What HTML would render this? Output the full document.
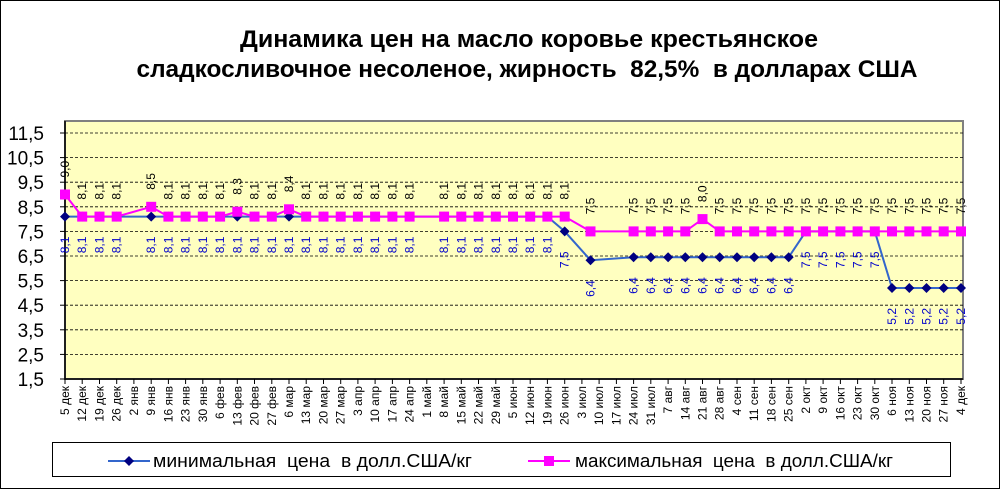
<!DOCTYPE html>
<html><head><meta charset="utf-8"><style>
html,body{margin:0;padding:0;background:#fff}
svg{display:block;font-family:"Liberation Sans",sans-serif}
.pre{white-space:pre}
</style></head><body>
<svg width="1003" height="490" viewBox="0 0 1003 490">
<rect x="0.5" y="0.5" width="999" height="488" fill="#fff" stroke="#000"/>
<text x="529" y="47" font-size="24" font-weight="bold" text-anchor="middle" textLength="578" lengthAdjust="spacingAndGlyphs">Динамика цен на масло коровье крестьянское</text>
<text class="pre" x="527" y="77" font-size="24" font-weight="bold" text-anchor="middle" textLength="781" lengthAdjust="spacingAndGlyphs">сладкосливочное несоленое, жирность  82,5%  в долларах США</text>
<rect x="65" y="121" width="898" height="258" fill="#ffffc0" stroke="#808080" stroke-width="2"/>
<g stroke="#000" stroke-width="0.8" stroke-dasharray="3,2">
<line x1="65" x2="963" y1="133" y2="133"/><line x1="65" x2="963" y1="157.6" y2="157.6"/><line x1="65" x2="963" y1="182.2" y2="182.2"/><line x1="65" x2="963" y1="206.8" y2="206.8"/><line x1="65" x2="963" y1="231.4" y2="231.4"/><line x1="65" x2="963" y1="256" y2="256"/><line x1="65" x2="963" y1="280.6" y2="280.6"/><line x1="65" x2="963" y1="305.2" y2="305.2"/><line x1="65" x2="963" y1="329.8" y2="329.8"/><line x1="65" x2="963" y1="354.4" y2="354.4"/>
</g>
<line x1="65" y1="121" x2="65" y2="380" stroke="#000" stroke-width="1.5"/>
<line x1="65" x2="963" y1="379" y2="379" stroke="#000" stroke-width="1.5"/>
<g stroke="#000">
<line x1="60" x2="65" y1="133" y2="133"/><line x1="60" x2="65" y1="157.6" y2="157.6"/><line x1="60" x2="65" y1="182.2" y2="182.2"/><line x1="60" x2="65" y1="206.8" y2="206.8"/><line x1="60" x2="65" y1="231.4" y2="231.4"/><line x1="60" x2="65" y1="256" y2="256"/><line x1="60" x2="65" y1="280.6" y2="280.6"/><line x1="60" x2="65" y1="305.2" y2="305.2"/><line x1="60" x2="65" y1="329.8" y2="329.8"/><line x1="60" x2="65" y1="354.4" y2="354.4"/><line x1="60" x2="65" y1="379" y2="379"/>
</g>
<g font-size="19" text-anchor="end">
<text x="44" y="140">11,5</text><text x="44" y="164.6">10,5</text><text x="44" y="189.2">9,5</text><text x="44" y="213.8">8,5</text><text x="44" y="238.4">7,5</text><text x="44" y="263">6,5</text><text x="44" y="287.6">5,5</text><text x="44" y="312.2">4,5</text><text x="44" y="336.8">3,5</text><text x="44" y="361.4">2,5</text><text x="44" y="386">1,5</text>
</g>
<g stroke="#000">
<line x1="65" x2="65" y1="379" y2="384"/><line x1="82.2" x2="82.2" y1="379" y2="384"/><line x1="99.5" x2="99.5" y1="379" y2="384"/><line x1="116.7" x2="116.7" y1="379" y2="384"/><line x1="133.9" x2="133.9" y1="379" y2="384"/><line x1="151.2" x2="151.2" y1="379" y2="384"/><line x1="168.4" x2="168.4" y1="379" y2="384"/><line x1="185.6" x2="185.6" y1="379" y2="384"/><line x1="202.8" x2="202.8" y1="379" y2="384"/><line x1="220.1" x2="220.1" y1="379" y2="384"/><line x1="237.3" x2="237.3" y1="379" y2="384"/><line x1="254.5" x2="254.5" y1="379" y2="384"/><line x1="271.8" x2="271.8" y1="379" y2="384"/><line x1="289" x2="289" y1="379" y2="384"/><line x1="306.2" x2="306.2" y1="379" y2="384"/><line x1="323.5" x2="323.5" y1="379" y2="384"/><line x1="340.7" x2="340.7" y1="379" y2="384"/><line x1="357.9" x2="357.9" y1="379" y2="384"/><line x1="375.1" x2="375.1" y1="379" y2="384"/><line x1="392.4" x2="392.4" y1="379" y2="384"/><line x1="409.6" x2="409.6" y1="379" y2="384"/><line x1="426.8" x2="426.8" y1="379" y2="384"/><line x1="444.1" x2="444.1" y1="379" y2="384"/><line x1="461.3" x2="461.3" y1="379" y2="384"/><line x1="478.5" x2="478.5" y1="379" y2="384"/><line x1="495.8" x2="495.8" y1="379" y2="384"/><line x1="513" x2="513" y1="379" y2="384"/><line x1="530.2" x2="530.2" y1="379" y2="384"/><line x1="547.4" x2="547.4" y1="379" y2="384"/><line x1="564.7" x2="564.7" y1="379" y2="384"/><line x1="581.9" x2="581.9" y1="379" y2="384"/><line x1="599.1" x2="599.1" y1="379" y2="384"/><line x1="616.4" x2="616.4" y1="379" y2="384"/><line x1="633.6" x2="633.6" y1="379" y2="384"/><line x1="650.8" x2="650.8" y1="379" y2="384"/><line x1="668.1" x2="668.1" y1="379" y2="384"/><line x1="685.3" x2="685.3" y1="379" y2="384"/><line x1="702.5" x2="702.5" y1="379" y2="384"/><line x1="719.7" x2="719.7" y1="379" y2="384"/><line x1="737" x2="737" y1="379" y2="384"/><line x1="754.2" x2="754.2" y1="379" y2="384"/><line x1="771.4" x2="771.4" y1="379" y2="384"/><line x1="788.7" x2="788.7" y1="379" y2="384"/><line x1="805.9" x2="805.9" y1="379" y2="384"/><line x1="823.1" x2="823.1" y1="379" y2="384"/><line x1="840.4" x2="840.4" y1="379" y2="384"/><line x1="857.6" x2="857.6" y1="379" y2="384"/><line x1="874.8" x2="874.8" y1="379" y2="384"/><line x1="892" x2="892" y1="379" y2="384"/><line x1="909.3" x2="909.3" y1="379" y2="384"/><line x1="926.5" x2="926.5" y1="379" y2="384"/><line x1="943.7" x2="943.7" y1="379" y2="384"/><line x1="961" x2="961" y1="379" y2="384"/>
</g>
<g font-size="12" text-anchor="end">
<text transform="translate(69,386) rotate(-90)">5 дек</text>
<text transform="translate(86.2,386) rotate(-90)">12 дек</text>
<text transform="translate(103.5,386) rotate(-90)">19 дек</text>
<text transform="translate(120.7,386) rotate(-90)">26 дек</text>
<text transform="translate(137.9,386) rotate(-90)">2 янв</text>
<text transform="translate(155.2,386) rotate(-90)">9 янв</text>
<text transform="translate(172.4,386) rotate(-90)">16 янв</text>
<text transform="translate(189.6,386) rotate(-90)">23 янв</text>
<text transform="translate(206.8,386) rotate(-90)">30 янв</text>
<text transform="translate(224.1,386) rotate(-90)">6 фев</text>
<text transform="translate(241.3,386) rotate(-90)">13 фев</text>
<text transform="translate(258.5,386) rotate(-90)">20 фев</text>
<text transform="translate(275.8,386) rotate(-90)">27 фев</text>
<text transform="translate(293,386) rotate(-90)">6 мар</text>
<text transform="translate(310.2,386) rotate(-90)">13 мар</text>
<text transform="translate(327.5,386) rotate(-90)">20 мар</text>
<text transform="translate(344.7,386) rotate(-90)">27 мар</text>
<text transform="translate(361.9,386) rotate(-90)">3 апр</text>
<text transform="translate(379.1,386) rotate(-90)">10 апр</text>
<text transform="translate(396.4,386) rotate(-90)">17 апр</text>
<text transform="translate(413.6,386) rotate(-90)">24 апр</text>
<text transform="translate(430.8,386) rotate(-90)">1 май</text>
<text transform="translate(448.1,386) rotate(-90)">8 май</text>
<text transform="translate(465.3,386) rotate(-90)">15 май</text>
<text transform="translate(482.5,386) rotate(-90)">22 май</text>
<text transform="translate(499.8,386) rotate(-90)">29 май</text>
<text transform="translate(517,386) rotate(-90)">5 июн</text>
<text transform="translate(534.2,386) rotate(-90)">12 июн</text>
<text transform="translate(551.4,386) rotate(-90)">19 июн</text>
<text transform="translate(568.7,386) rotate(-90)">26 июн</text>
<text transform="translate(585.9,386) rotate(-90)">3 июл</text>
<text transform="translate(603.1,386) rotate(-90)">10 июл</text>
<text transform="translate(620.4,386) rotate(-90)">17 июл</text>
<text transform="translate(637.6,386) rotate(-90)">24 июл</text>
<text transform="translate(654.8,386) rotate(-90)">31 июл</text>
<text transform="translate(672.1,386) rotate(-90)">7 авг</text>
<text transform="translate(689.3,386) rotate(-90)">14 авг</text>
<text transform="translate(706.5,386) rotate(-90)">21 авг</text>
<text transform="translate(723.7,386) rotate(-90)">28 авг</text>
<text transform="translate(741,386) rotate(-90)">4 сен</text>
<text transform="translate(758.2,386) rotate(-90)">11 сен</text>
<text transform="translate(775.4,386) rotate(-90)">18 сен</text>
<text transform="translate(792.7,386) rotate(-90)">25 сен</text>
<text transform="translate(809.9,386) rotate(-90)">2 окт</text>
<text transform="translate(827.1,386) rotate(-90)">9 окт</text>
<text transform="translate(844.4,386) rotate(-90)">16 окт</text>
<text transform="translate(861.6,386) rotate(-90)">23 окт</text>
<text transform="translate(878.8,386) rotate(-90)">30 окт</text>
<text transform="translate(896,386) rotate(-90)">6 ноя</text>
<text transform="translate(913.3,386) rotate(-90)">13 ноя</text>
<text transform="translate(930.5,386) rotate(-90)">20 ноя</text>
<text transform="translate(947.7,386) rotate(-90)">27 ноя</text>
<text transform="translate(965,386) rotate(-90)">4 дек</text>
</g>
<polyline fill="none" stroke="#3366cc" stroke-width="2" points="65,216.6 82.2,216.6 99.5,216.6 116.7,216.6 151.2,216.6 168.4,216.6 185.6,216.6 202.8,216.6 220.1,216.6 237.3,216.6 254.5,216.6 271.8,216.6 289,216.6 306.2,216.6 323.5,216.6 340.7,216.6 357.9,216.6 375.1,216.6 392.4,216.6 409.6,216.6 444.1,216.6 461.3,216.6 478.5,216.6 495.8,216.6 513,216.6 530.2,216.6 547.4,216.6 564.7,231.4 590.5,260.2 633.6,257.2 650.8,257.2 668.1,257.2 685.3,257.2 702.5,257.2 719.7,257.2 737,257.2 754.2,257.2 771.4,257.2 788.7,257.2 805.9,231.4 823.1,231.4 840.4,231.4 857.6,231.4 874.8,231.4 892,288 909.3,288 926.5,288 943.7,288 961,288"/>
<polyline fill="none" stroke="#ff00ff" stroke-width="2" points="65,194.5 82.2,216.6 99.5,216.6 116.7,216.6 151.2,206.8 168.4,216.6 185.6,216.6 202.8,216.6 220.1,216.6 237.3,211.7 254.5,216.6 271.8,216.6 289,209.3 306.2,216.6 323.5,216.6 340.7,216.6 357.9,216.6 375.1,216.6 392.4,216.6 409.6,216.6 444.1,216.6 461.3,216.6 478.5,216.6 495.8,216.6 513,216.6 530.2,216.6 547.4,216.6 564.7,216.6 590.5,231.4 633.6,231.4 650.8,231.4 668.1,231.4 685.3,231.4 702.5,219.1 719.7,231.4 737,231.4 754.2,231.4 771.4,231.4 788.7,231.4 805.9,231.4 823.1,231.4 840.4,231.4 857.6,231.4 874.8,231.4 892,231.4 909.3,231.4 926.5,231.4 943.7,231.4 961,231.4"/>
<g fill="#000080">
<path d="M65 211.6l5 5-5 5-5-5z"/><path d="M82.2 211.6l5 5-5 5-5-5z"/><path d="M99.5 211.6l5 5-5 5-5-5z"/><path d="M116.7 211.6l5 5-5 5-5-5z"/><path d="M151.2 211.6l5 5-5 5-5-5z"/><path d="M168.4 211.6l5 5-5 5-5-5z"/><path d="M185.6 211.6l5 5-5 5-5-5z"/><path d="M202.8 211.6l5 5-5 5-5-5z"/><path d="M220.1 211.6l5 5-5 5-5-5z"/><path d="M237.3 211.6l5 5-5 5-5-5z"/><path d="M254.5 211.6l5 5-5 5-5-5z"/><path d="M271.8 211.6l5 5-5 5-5-5z"/><path d="M289 211.6l5 5-5 5-5-5z"/><path d="M306.2 211.6l5 5-5 5-5-5z"/><path d="M323.5 211.6l5 5-5 5-5-5z"/><path d="M340.7 211.6l5 5-5 5-5-5z"/><path d="M357.9 211.6l5 5-5 5-5-5z"/><path d="M375.1 211.6l5 5-5 5-5-5z"/><path d="M392.4 211.6l5 5-5 5-5-5z"/><path d="M409.6 211.6l5 5-5 5-5-5z"/><path d="M444.1 211.6l5 5-5 5-5-5z"/><path d="M461.3 211.6l5 5-5 5-5-5z"/><path d="M478.5 211.6l5 5-5 5-5-5z"/><path d="M495.8 211.6l5 5-5 5-5-5z"/><path d="M513 211.6l5 5-5 5-5-5z"/><path d="M530.2 211.6l5 5-5 5-5-5z"/><path d="M547.4 211.6l5 5-5 5-5-5z"/><path d="M564.7 226.4l5 5-5 5-5-5z"/><path d="M590.5 255.2l5 5-5 5-5-5z"/><path d="M633.6 252.2l5 5-5 5-5-5z"/><path d="M650.8 252.2l5 5-5 5-5-5z"/><path d="M668.1 252.2l5 5-5 5-5-5z"/><path d="M685.3 252.2l5 5-5 5-5-5z"/><path d="M702.5 252.2l5 5-5 5-5-5z"/><path d="M719.7 252.2l5 5-5 5-5-5z"/><path d="M737 252.2l5 5-5 5-5-5z"/><path d="M754.2 252.2l5 5-5 5-5-5z"/><path d="M771.4 252.2l5 5-5 5-5-5z"/><path d="M788.7 252.2l5 5-5 5-5-5z"/><path d="M805.9 226.4l5 5-5 5-5-5z"/><path d="M823.1 226.4l5 5-5 5-5-5z"/><path d="M840.4 226.4l5 5-5 5-5-5z"/><path d="M857.6 226.4l5 5-5 5-5-5z"/><path d="M874.8 226.4l5 5-5 5-5-5z"/><path d="M892 283l5 5-5 5-5-5z"/><path d="M909.3 283l5 5-5 5-5-5z"/><path d="M926.5 283l5 5-5 5-5-5z"/><path d="M943.7 283l5 5-5 5-5-5z"/><path d="M961 283l5 5-5 5-5-5z"/>
</g>
<g fill="#ff00ff">
<rect x="60" y="189.5" width="10" height="10"/><rect x="77.2" y="211.6" width="10" height="10"/><rect x="94.5" y="211.6" width="10" height="10"/><rect x="111.7" y="211.6" width="10" height="10"/><rect x="146.2" y="201.8" width="10" height="10"/><rect x="163.4" y="211.6" width="10" height="10"/><rect x="180.6" y="211.6" width="10" height="10"/><rect x="197.8" y="211.6" width="10" height="10"/><rect x="215.1" y="211.6" width="10" height="10"/><rect x="232.3" y="206.7" width="10" height="10"/><rect x="249.5" y="211.6" width="10" height="10"/><rect x="266.8" y="211.6" width="10" height="10"/><rect x="284" y="204.3" width="10" height="10"/><rect x="301.2" y="211.6" width="10" height="10"/><rect x="318.5" y="211.6" width="10" height="10"/><rect x="335.7" y="211.6" width="10" height="10"/><rect x="352.9" y="211.6" width="10" height="10"/><rect x="370.1" y="211.6" width="10" height="10"/><rect x="387.4" y="211.6" width="10" height="10"/><rect x="404.6" y="211.6" width="10" height="10"/><rect x="439.1" y="211.6" width="10" height="10"/><rect x="456.3" y="211.6" width="10" height="10"/><rect x="473.5" y="211.6" width="10" height="10"/><rect x="490.8" y="211.6" width="10" height="10"/><rect x="508" y="211.6" width="10" height="10"/><rect x="525.2" y="211.6" width="10" height="10"/><rect x="542.4" y="211.6" width="10" height="10"/><rect x="559.7" y="211.6" width="10" height="10"/><rect x="585.5" y="226.4" width="10" height="10"/><rect x="628.6" y="226.4" width="10" height="10"/><rect x="645.8" y="226.4" width="10" height="10"/><rect x="663.1" y="226.4" width="10" height="10"/><rect x="680.3" y="226.4" width="10" height="10"/><rect x="697.5" y="214.1" width="10" height="10"/><rect x="714.7" y="226.4" width="10" height="10"/><rect x="732" y="226.4" width="10" height="10"/><rect x="749.2" y="226.4" width="10" height="10"/><rect x="766.4" y="226.4" width="10" height="10"/><rect x="783.7" y="226.4" width="10" height="10"/><rect x="800.9" y="226.4" width="10" height="10"/><rect x="818.1" y="226.4" width="10" height="10"/><rect x="835.4" y="226.4" width="10" height="10"/><rect x="852.6" y="226.4" width="10" height="10"/><rect x="869.8" y="226.4" width="10" height="10"/><rect x="887" y="226.4" width="10" height="10"/><rect x="904.3" y="226.4" width="10" height="10"/><rect x="921.5" y="226.4" width="10" height="10"/><rect x="938.7" y="226.4" width="10" height="10"/><rect x="956" y="226.4" width="10" height="10"/>
</g>
<g font-size="12" fill="#000">
<text transform="translate(69,177.5) rotate(-90)">9,0</text>
<text transform="translate(86.2,199.6) rotate(-90)">8,1</text>
<text transform="translate(103.5,199.6) rotate(-90)">8,1</text>
<text transform="translate(120.7,199.6) rotate(-90)">8,1</text>
<text transform="translate(155.2,189.8) rotate(-90)">8,5</text>
<text transform="translate(172.4,199.6) rotate(-90)">8,1</text>
<text transform="translate(189.6,199.6) rotate(-90)">8,1</text>
<text transform="translate(206.8,199.6) rotate(-90)">8,1</text>
<text transform="translate(224.1,199.6) rotate(-90)">8,1</text>
<text transform="translate(241.3,194.7) rotate(-90)">8,3</text>
<text transform="translate(258.5,199.6) rotate(-90)">8,1</text>
<text transform="translate(275.8,199.6) rotate(-90)">8,1</text>
<text transform="translate(293,192.3) rotate(-90)">8,4</text>
<text transform="translate(310.2,199.6) rotate(-90)">8,1</text>
<text transform="translate(327.5,199.6) rotate(-90)">8,1</text>
<text transform="translate(344.7,199.6) rotate(-90)">8,1</text>
<text transform="translate(361.9,199.6) rotate(-90)">8,1</text>
<text transform="translate(379.1,199.6) rotate(-90)">8,1</text>
<text transform="translate(396.4,199.6) rotate(-90)">8,1</text>
<text transform="translate(413.6,199.6) rotate(-90)">8,1</text>
<text transform="translate(448.1,199.6) rotate(-90)">8,1</text>
<text transform="translate(465.3,199.6) rotate(-90)">8,1</text>
<text transform="translate(482.5,199.6) rotate(-90)">8,1</text>
<text transform="translate(499.8,199.6) rotate(-90)">8,1</text>
<text transform="translate(517,199.6) rotate(-90)">8,1</text>
<text transform="translate(534.2,199.6) rotate(-90)">8,1</text>
<text transform="translate(551.4,199.6) rotate(-90)">8,1</text>
<text transform="translate(568.7,199.6) rotate(-90)">8,1</text>
<text transform="translate(594.5,214.4) rotate(-90)">7,5</text>
<text transform="translate(637.6,214.4) rotate(-90)">7,5</text>
<text transform="translate(654.8,214.4) rotate(-90)">7,5</text>
<text transform="translate(672.1,214.4) rotate(-90)">7,5</text>
<text transform="translate(689.3,214.4) rotate(-90)">7,5</text>
<text transform="translate(706.5,202.1) rotate(-90)">8,0</text>
<text transform="translate(723.7,214.4) rotate(-90)">7,5</text>
<text transform="translate(741,214.4) rotate(-90)">7,5</text>
<text transform="translate(758.2,214.4) rotate(-90)">7,5</text>
<text transform="translate(775.4,214.4) rotate(-90)">7,5</text>
<text transform="translate(792.7,214.4) rotate(-90)">7,5</text>
<text transform="translate(809.9,214.4) rotate(-90)">7,5</text>
<text transform="translate(827.1,214.4) rotate(-90)">7,5</text>
<text transform="translate(844.4,214.4) rotate(-90)">7,5</text>
<text transform="translate(861.6,214.4) rotate(-90)">7,5</text>
<text transform="translate(878.8,214.4) rotate(-90)">7,5</text>
<text transform="translate(896,214.4) rotate(-90)">7,5</text>
<text transform="translate(913.3,214.4) rotate(-90)">7,5</text>
<text transform="translate(930.5,214.4) rotate(-90)">7,5</text>
<text transform="translate(947.7,214.4) rotate(-90)">7,5</text>
<text transform="translate(965,214.4) rotate(-90)">7,5</text>
</g>
<g font-size="12" fill="#0000cc" text-anchor="end">
<text transform="translate(69,236.6) rotate(-90)">8,1</text>
<text transform="translate(86.2,236.6) rotate(-90)">8,1</text>
<text transform="translate(103.5,236.6) rotate(-90)">8,1</text>
<text transform="translate(120.7,236.6) rotate(-90)">8,1</text>
<text transform="translate(155.2,236.6) rotate(-90)">8,1</text>
<text transform="translate(172.4,236.6) rotate(-90)">8,1</text>
<text transform="translate(189.6,236.6) rotate(-90)">8,1</text>
<text transform="translate(206.8,236.6) rotate(-90)">8,1</text>
<text transform="translate(224.1,236.6) rotate(-90)">8,1</text>
<text transform="translate(241.3,236.6) rotate(-90)">8,1</text>
<text transform="translate(258.5,236.6) rotate(-90)">8,1</text>
<text transform="translate(275.8,236.6) rotate(-90)">8,1</text>
<text transform="translate(293,236.6) rotate(-90)">8,1</text>
<text transform="translate(310.2,236.6) rotate(-90)">8,1</text>
<text transform="translate(327.5,236.6) rotate(-90)">8,1</text>
<text transform="translate(344.7,236.6) rotate(-90)">8,1</text>
<text transform="translate(361.9,236.6) rotate(-90)">8,1</text>
<text transform="translate(379.1,236.6) rotate(-90)">8,1</text>
<text transform="translate(396.4,236.6) rotate(-90)">8,1</text>
<text transform="translate(413.6,236.6) rotate(-90)">8,1</text>
<text transform="translate(448.1,236.6) rotate(-90)">8,1</text>
<text transform="translate(465.3,236.6) rotate(-90)">8,1</text>
<text transform="translate(482.5,236.6) rotate(-90)">8,1</text>
<text transform="translate(499.8,236.6) rotate(-90)">8,1</text>
<text transform="translate(517,236.6) rotate(-90)">8,1</text>
<text transform="translate(534.2,236.6) rotate(-90)">8,1</text>
<text transform="translate(551.4,236.6) rotate(-90)">8,1</text>
<text transform="translate(568.7,251.4) rotate(-90)">7,5</text>
<text transform="translate(594.5,280.2) rotate(-90)">6,4</text>
<text transform="translate(637.6,277.2) rotate(-90)">6,4</text>
<text transform="translate(654.8,277.2) rotate(-90)">6,4</text>
<text transform="translate(672.1,277.2) rotate(-90)">6,4</text>
<text transform="translate(689.3,277.2) rotate(-90)">6,4</text>
<text transform="translate(706.5,277.2) rotate(-90)">6,4</text>
<text transform="translate(723.7,277.2) rotate(-90)">6,4</text>
<text transform="translate(741,277.2) rotate(-90)">6,4</text>
<text transform="translate(758.2,277.2) rotate(-90)">6,4</text>
<text transform="translate(775.4,277.2) rotate(-90)">6,4</text>
<text transform="translate(792.7,277.2) rotate(-90)">6,4</text>
<text transform="translate(809.9,251.4) rotate(-90)">7,5</text>
<text transform="translate(827.1,251.4) rotate(-90)">7,5</text>
<text transform="translate(844.4,251.4) rotate(-90)">7,5</text>
<text transform="translate(861.6,251.4) rotate(-90)">7,5</text>
<text transform="translate(878.8,251.4) rotate(-90)">7,5</text>
<text transform="translate(896,308) rotate(-90)">5,2</text>
<text transform="translate(913.3,308) rotate(-90)">5,2</text>
<text transform="translate(930.5,308) rotate(-90)">5,2</text>
<text transform="translate(947.7,308) rotate(-90)">5,2</text>
<text transform="translate(965,308) rotate(-90)">5,2</text>
</g>
<rect x="52.5" y="442.5" width="898" height="34" fill="#fff" stroke="#000"/>
<line x1="108" y1="461" x2="150" y2="461" stroke="#3366cc" stroke-width="2"/>
<path d="M129 456l5 5-5 5-5-5z" fill="#000080"/>
<text class="pre" x="153" y="467" font-size="18" textLength="319" lengthAdjust="spacingAndGlyphs">минимальная  цена  в долл.США/кг</text>
<line x1="528" y1="461" x2="570" y2="461" stroke="#ff00ff" stroke-width="2"/>
<rect x="544" y="456" width="10" height="10" fill="#ff00ff"/>
<text class="pre" x="575" y="467" font-size="18" textLength="318" lengthAdjust="spacingAndGlyphs">максимальная  цена  в долл.США/кг</text>
</svg>
</body></html>
